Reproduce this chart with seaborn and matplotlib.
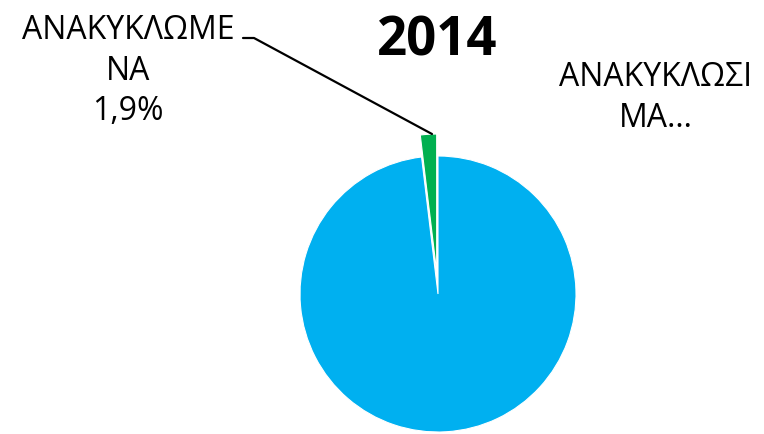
import matplotlib
matplotlib.use('Agg')
import matplotlib.pyplot as plt
import seaborn as sns

# Dados
categorias = ['ΑΝΑΚΥΚΛΩΣΙΜΑ', 'ΑΝΑΚΥΚΛΩΜΕΝΑ']
valores = [98.1, 1.9]
rotulos = ['ΑΝΑΚΥΚΛΩΣΙ\nΜΑ…', 'ΑΝΑΚΥΚΛΩΜΕ\nΝΑ\n1,9%']
titulo = '2014'

sns.set_theme(style='white')
plt.rcParams['font.family'] = ['Open Sans', 'DejaVu Sans']
cores = ['#00B0F0', '#00B050']

fig = plt.figure(figsize=(7.64, 4.35), dpi=100)
ax = fig.add_axes([0, 0, 1, 1])

# pie em coordenadas de pixel (y para cima); explode em unidades de dados
wedges, _ = ax.pie(valores, colors=cores, startangle=90, counterclock=False,
                   explode=[0, 22], center=(438, 140), radius=138,
                   wedgeprops=dict(linewidth=0.8, edgecolor='white'))
for w in wedges:
    w.set_clip_on(False)

ax.set_xlim(0, 764)
ax.set_ylim(0, 435)
ax.set_aspect('equal')
ax.axis('off')

ax.text(437, 394, titulo, ha='center', va='center', fontsize=38,
        fontweight='bold', color='black')

ax.text(128, 364, rotulos[1], ha='center', va='center', fontsize=23,
        linespacing=1.3, color='black')
ax.text(656, 337, rotulos[0], ha='center', va='center', fontsize=23,
        linespacing=1.3, color='black')

# linha guia
ax.plot([243, 254, 432], [396, 396, 300], color='black', linewidth=1.6)

fig.savefig('out.png', dpi=100)
